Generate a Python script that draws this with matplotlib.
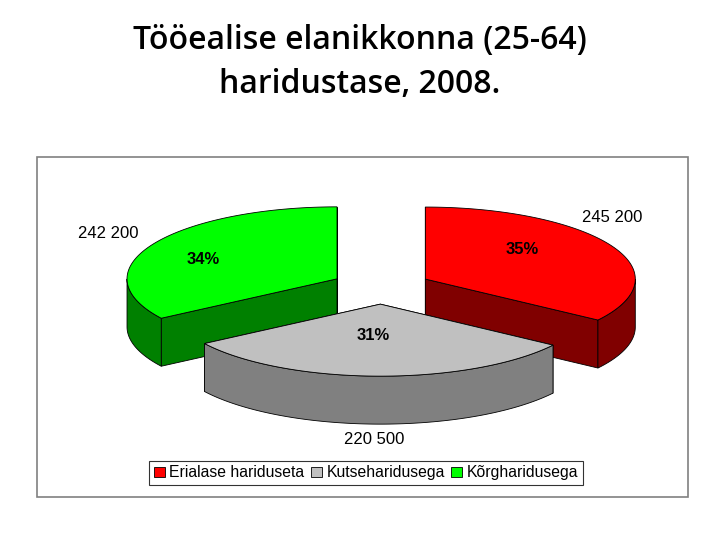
import matplotlib.pyplot as plt
import numpy as np
from matplotlib.patches import Polygon, Rectangle, Patch

categories = ['Erialase hariduseta', 'Kutseharidusega', 'Kõrgharidusega']
values = [245200, 220500, 242200]
value_labels = ['245 200', '220 500', '242 200']
top_colors = ['#FF0000', '#C0C0C0', '#00FF00']
side_colors = ['#800000', '#808080', '#008000']

plt.rcParams['font.family'] = ['Liberation Sans', 'DejaVu Sans']

fig = plt.figure(figsize=(7.2, 5.4), dpi=100)
ax = fig.add_axes([0, 0, 1, 1])
ax.set_xlim(0, 720)
ax.set_ylim(540, 0)
ax.axis('off')

fig.text(0.5, 1 - 24 / 540, 'Tööealise elanikkonna (25-64)\nharidustase, 2008.', ha='center', va='top',
         fontsize=23, fontweight='semibold', family=['Open Sans', 'DejaVu Sans'], linespacing=1.45)

ax.add_patch(Rectangle((37, 157), 651, 340, fill=False, edgecolor='#808080', lw=1.2))

cx, cy = 381, 287
rx, ry = 210, 72
depth = 48
explode = 50

fracs = np.array(values) / sum(values)
pcts = [f'{round(f * 100)}%' for f in fracs]

def pt(c, t, dz=0):
    return (c[0] + rx * np.cos(t), c[1] - ry * np.sin(t) + dz)

wedges = []
start = np.pi / 2
for i, f in enumerate(fracs):
    end = start - 2 * np.pi * f
    mid = (start + end) / 2
    c = (cx + explode * np.cos(mid), cy - explode * ry / rx * np.sin(mid))
    wedges.append((i, start, end, mid, c))
    start = end

# back slices first, front slice last
order = sorted(wedges, key=lambda w: -np.sin(w[3]))
for i, a0, a1, mid, c in order:
    ts = np.linspace(a0, a1, 120)
    # radial cut faces
    for a in (a0, a1):
        p = pt(c, a)
        quad = [c, p, (p[0], p[1] + depth), (c[0], c[1] + depth)]
        ax.add_patch(Polygon(quad, closed=True, fc=side_colors[i], ec='black', lw=0.6))
    # outer curved side (front half only)
    front = ts[np.sin(ts) < 0]
    if len(front) > 1:
        top = [pt(c, t) for t in front]
        bot = [pt(c, t, depth) for t in front[::-1]]
        ax.add_patch(Polygon(top + bot, closed=True, fc=side_colors[i], ec='black', lw=0.6))
    # top face
    poly = [c] + [pt(c, t) for t in ts]
    ax.add_patch(Polygon(poly, closed=True, fc=top_colors[i], ec='black', lw=0.6))

pct_pos = [(522, 250), (373, 336), (203, 260)]
val_pos = [(612, 217), (374, 440), (108, 233)]
for i in range(3):
    ax.text(*pct_pos[i], pcts[i], ha='center', va='center', fontsize=12, fontweight='bold')
    ax.text(*val_pos[i], value_labels[i], ha='center', va='center', fontsize=12)

handles = [Patch(fc=top_colors[i], ec='black', lw=0.6) for i in range(3)]
leg = fig.legend(handles, categories, loc='center', bbox_to_anchor=(366 / 720, 1 - 473 / 540),
                 ncol=3, fontsize=11.3, frameon=True, fancybox=False, handlelength=0.7,
                 handleheight=0.7, handletextpad=0.3, columnspacing=0.4, borderpad=0.3)
leg.get_frame().set_edgecolor('black')
leg.get_frame().set_linewidth(0.8)

fig.savefig('out.png', dpi=100)
